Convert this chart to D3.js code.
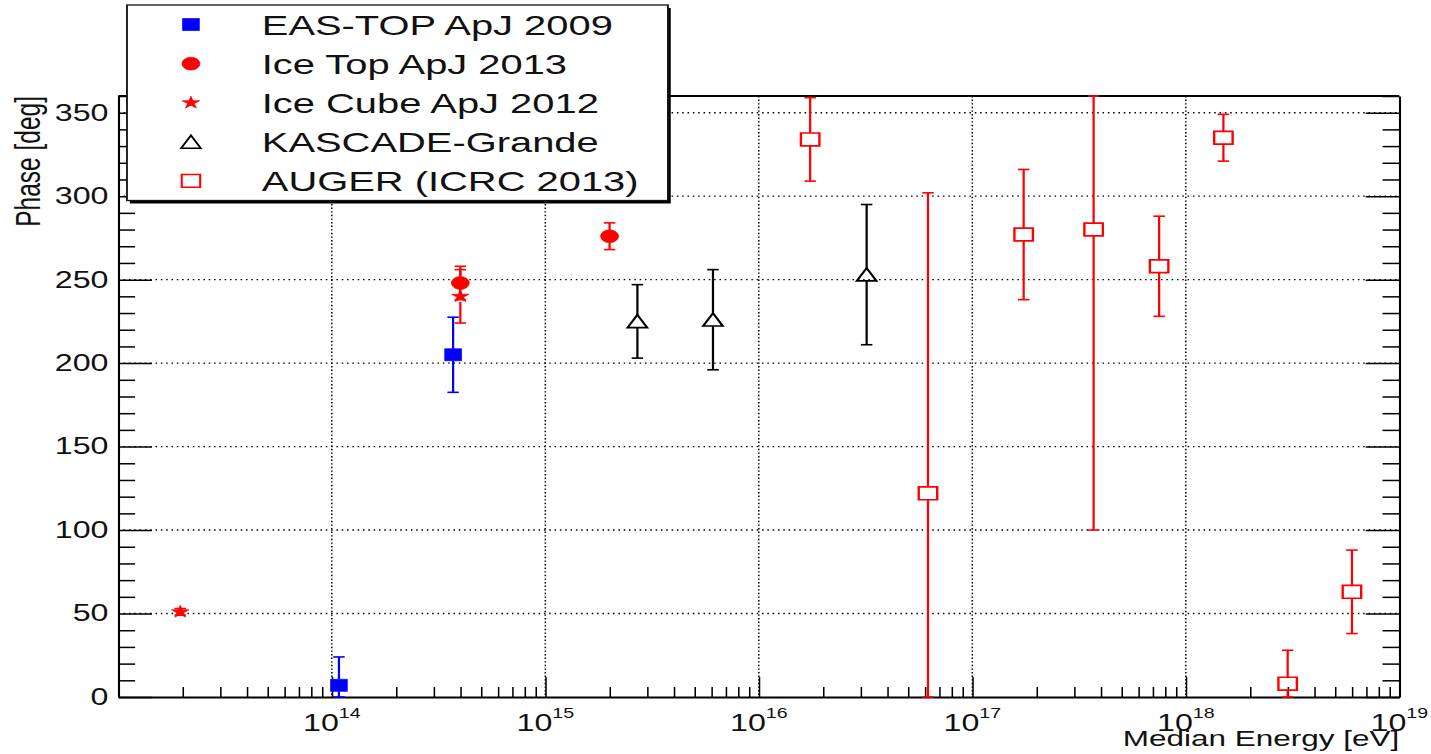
<!DOCTYPE html>
<html>
<head>
<meta charset="utf-8">
<script src="https://cdn.jsdelivr.net/npm/d3@7"></script>
<style>
    body { margin: 0; background: #fff; }
    svg { display: block; font-family: "Liberation Sans", Arial, sans-serif; }
</style>
</head>
<body>
<div id="chart"></div>
<script>
// ---- data ----
const easTopEnergy = [1.08e14, 3.7e14];
const easTopPhase = [7, 205];
const easTopErr = [17, 22.5];

const iceTopEnergy = [4.0e14, 2.0e15];
const iceTopPhase = [248, 276];
const iceTopErr = [10, 8];

const iceCubeEnergy = [1.95e13, 4.0e14];
const iceCubePhase = [51, 240];
const iceCubeErr = [2, 16];

const kascadeEnergy = [2.7e15, 6.1e15, 3.2e16];
const kascadePhase = [225, 226, 253];
const kascadeErr = [22, 30, 42];

const augerEnergy = [1.74e16, 6.2e16, 1.74e17, 3.7e17, 7.5e17, 1.5e18, 3.0e18, 6.0e18];
const augerPhase = [334, 122, 277, 280, 258, 335, 8, 63];
const augerErr = [25, 180, 39, 180, 30, 14, 20, 25];

const xLabelPowers = [14, 15, 16, 17, 18, 19];
const yLabelTicks = [0, 50, 100, 150, 200, 250, 300, 350];

// ---- layout ----
// the original picture is stretched sideways, so draw in a narrower box and stretch it
let width = 1431,
    height = 754,
    stretch = 1.4,
    vw = width / stretch;
let pLeft = 84.5, pRight = 999.5, pTop = 96, pBottom = 697;

const svg = d3
    .select("#chart")
    .append("svg")
    .attr("width", width)
    .attr("height", height)
    .attr("viewBox", [0, 0, vw, height])
    .attr("preserveAspectRatio", "none");

let x = d3.scaleLog().domain([1e13, 1e19]).range([pLeft, pRight]);
let y = d3.scaleLinear().domain([0, 360]).range([pBottom, pTop]);
let yc = y.copy().clamp(true);

// grid
svg.append("g")
    .selectAll("line")
    .data(yLabelTicks.filter((d) => d > 0))
    .join("line")
    .attr("x1", pLeft)
    .attr("x2", pRight)
    .attr("y1", (d) => y(d))
    .attr("y2", (d) => y(d))
    .attr("stroke", "#000")
    .attr("stroke-width", 1.4)
    .attr("stroke-dasharray", "1.1,2.7");

svg.append("g")
    .selectAll("line")
    .data(xLabelPowers.slice(0, -1).map((p) => Math.pow(10, p)))
    .join("line")
    .attr("x1", (d) => x(d))
    .attr("x2", (d) => x(d))
    .attr("y1", pTop)
    .attr("y2", pBottom)
    .attr("stroke", "#000")
    .attr("stroke-width", 1.1)
    .attr("stroke-dasharray", "1.4,2.2");

// axes
let xTicks = [];
for (let n = 13; n < 19; n++) for (let k = 1; k < 10; k++) xTicks.push(k * Math.pow(10, n));
xTicks.push(1e19);
const isMajor = (v) => Math.abs(Math.log10(v) - Math.round(Math.log10(v))) < 1e-9;

const gx = svg.append("g")
    .attr("transform", `translate(0,${pBottom})`)
    .call(d3.axisBottom(x).tickValues(xTicks).tickSize(-10).tickSizeOuter(0).tickFormat(""));
gx.selectAll(".tick line").attr("stroke-width", 1.1);
gx.selectAll(".tick line").filter(isMajor).attr("y2", -20);
gx.select(".domain").attr("stroke-width", 1.8);

const yTicks = d3.range(0, 361, 10);
const gy = svg.append("g")
    .attr("transform", `translate(${pLeft},0)`)
    .call(d3.axisLeft(y).tickValues(yTicks).tickSize(-12).tickSizeOuter(0).tickPadding(7)
        .tickFormat((d) => (yLabelTicks.includes(d) ? d : "")));
gy.selectAll(".tick line").attr("stroke-width", 1.5);
gy.selectAll(".tick line").filter((d) => d % 50 === 0).attr("x2", 24);
gy.select(".domain").attr("stroke-width", 1.5);
gy.attr("font-family", null).attr("font-size", 23);
gy.selectAll("text").attr("fill", "#111");

const gr = svg.append("g")
    .attr("transform", `translate(${pRight},0)`)
    .call(d3.axisRight(y).tickValues(yTicks).tickSize(-12).tickSizeOuter(0).tickFormat(""));
gr.selectAll(".tick line").attr("stroke-width", 1.5);
gr.selectAll(".tick line").filter((d) => d % 50 === 0).attr("x2", -24);
gr.select(".domain").attr("stroke-width", 1.5);

svg.append("line")
    .attr("x1", pLeft).attr("x2", pRight)
    .attr("y1", pTop).attr("y2", pTop)
    .attr("stroke", "#000").attr("stroke-width", 1.8);

// x tick labels 10^n
svg.append("g")
    .selectAll("text")
    .data(xLabelPowers)
    .join("text")
    .attr("x", (d) => x(Math.pow(10, d)))
    .attr("y", 731.5)
    .attr("text-anchor", "middle")
    .attr("font-size", 23)
    .attr("fill", "#111")
    .each(function (d) {
        let t = d3.select(this);
        t.append("tspan").text("10");
        t.append("tspan").attr("dy", -13).attr("font-size", 14).text(d);
    });

// axis titles
svg.append("text")
    .attr("x", pRight)
    .attr("y", 746)
    .attr("text-anchor", "end")
    .attr("font-size", 22.5)
    .attr("fill", "#111")
    .text("Median Energy [eV]");

svg.append("text")
    .attr("transform", `translate(28.5,${pTop}) rotate(-90)`)
    .attr("text-anchor", "end")
    .attr("font-size", 24.5)
    .attr("fill", "#111")
    .text("Phase [deg]");

// ---- markers ----
function markerPath(type) {
    if (type === "square") return "M-6,-6h12v12h-12Z";
    if (type === "osquare") return "M-6.6,-6.4h13.2v12.8h-13.2Z";
    if (type === "circle") return d3.symbol(d3.symbolCircle, Math.PI * 6.4 * 6.4)();
    if (type === "triangle") return "M0,-6.5L7,6.3L-7,6.3Z";
    return d3.symbol(d3.symbolStar, 48)();
}
const gapOf = { square: 6, osquare: 6.4, circle: 6.4, triangle: 6.4, star: 5.5 };

const series = [
    { name: "EAS-TOP ApJ 2009", energy: easTopEnergy, phase: easTopPhase, err: easTopErr, color: "#0000ff", marker: "square", filled: true },
    { name: "Ice Top ApJ 2013", energy: iceTopEnergy, phase: iceTopPhase, err: iceTopErr, color: "#ff0000", marker: "circle", filled: true },
    { name: "Ice Cube ApJ 2012", energy: iceCubeEnergy, phase: iceCubePhase, err: iceCubeErr, color: "#ff0000", marker: "star", filled: true },
    { name: "KASCADE-Grande", energy: kascadeEnergy, phase: kascadePhase, err: kascadeErr, color: "#000000", marker: "triangle", filled: false },
    { name: "AUGER (ICRC 2013)", energy: augerEnergy, phase: augerPhase, err: augerErr, color: "#ff0000", marker: "osquare", filled: false },
];

for (let s of series) {
    let pts = s.energy.map((e, i) => ({ e: e, p: s.phase[i], err: s.err[i] }));
    let gap = gapOf[s.marker];
    let g = svg.append("g").attr("class", "series");

    g.append("g")
        .selectAll("line")
        .data(pts)
        .join("line")
        .attr("x1", (d) => x(d.e))
        .attr("x2", (d) => x(d.e))
        .attr("y1", (d) => yc(d.p - d.err))
        .attr("y2", (d) => Math.min(yc(d.p - d.err), y(d.p) + gap))
        .attr("stroke", s.color)
        .attr("stroke-width", 1.6);
    g.append("g")
        .selectAll("line")
        .data(pts)
        .join("line")
        .attr("x1", (d) => x(d.e))
        .attr("x2", (d) => x(d.e))
        .attr("y1", (d) => yc(d.p + d.err))
        .attr("y2", (d) => Math.max(yc(d.p + d.err), y(d.p) - gap))
        .attr("stroke", s.color)
        .attr("stroke-width", 1.6);
    for (let sign of [-1, 1]) {
        g.append("g")
            .selectAll("line")
            .data(pts)
            .join("line")
            .attr("x1", (d) => x(d.e) - 4.1)
            .attr("x2", (d) => x(d.e) + 4.1)
            .attr("y1", (d) => yc(d.p + sign * d.err))
            .attr("y2", (d) => yc(d.p + sign * d.err))
            .attr("stroke", s.color)
            .attr("stroke-width", 1.6);
    }
    g.append("g")
        .selectAll("path")
        .data(pts)
        .join("path")
        .attr("transform", (d) => `translate(${x(d.e)},${y(d.p)})`)
        .attr("d", markerPath(s.marker))
        .attr("fill", s.filled ? s.color : "none")
        .attr("stroke", s.color)
        .attr("stroke-width", s.filled ? 0.6 : 1.7);
}

// ---- legend ----
let lx = 90.7, ly = 5, lw = 386.4, lh = 195.5;
const lg = svg.append("g");
lg.append("rect")
    .attr("x", lx + 2).attr("y", ly + 3)
    .attr("width", lw).attr("height", lh)
    .attr("fill", "#000");
lg.append("rect")
    .attr("x", lx).attr("y", ly)
    .attr("width", lw).attr("height", lh)
    .attr("fill", "#fff")
    .attr("stroke", "#111")
    .attr("stroke-width", 1.3);

let rowH = lh / series.length;
series.forEach((s, i) => {
    let cy = ly + rowH * (i + 0.5);
    lg.append("path")
        .attr("transform", `translate(136.4,${cy})`)
        .attr("d", markerPath(s.marker))
        .attr("fill", s.filled ? s.color : "none")
        .attr("stroke", s.color)
        .attr("stroke-width", s.filled ? 0.6 : 1.5);
    lg.append("text")
        .attr("x", 187)
        .attr("y", cy)
        .attr("dy", "0.36em")
        .attr("font-size", 28.5)
        .attr("fill", "#111")
        .text(s.name);
});
</script>
</body>
</html>
